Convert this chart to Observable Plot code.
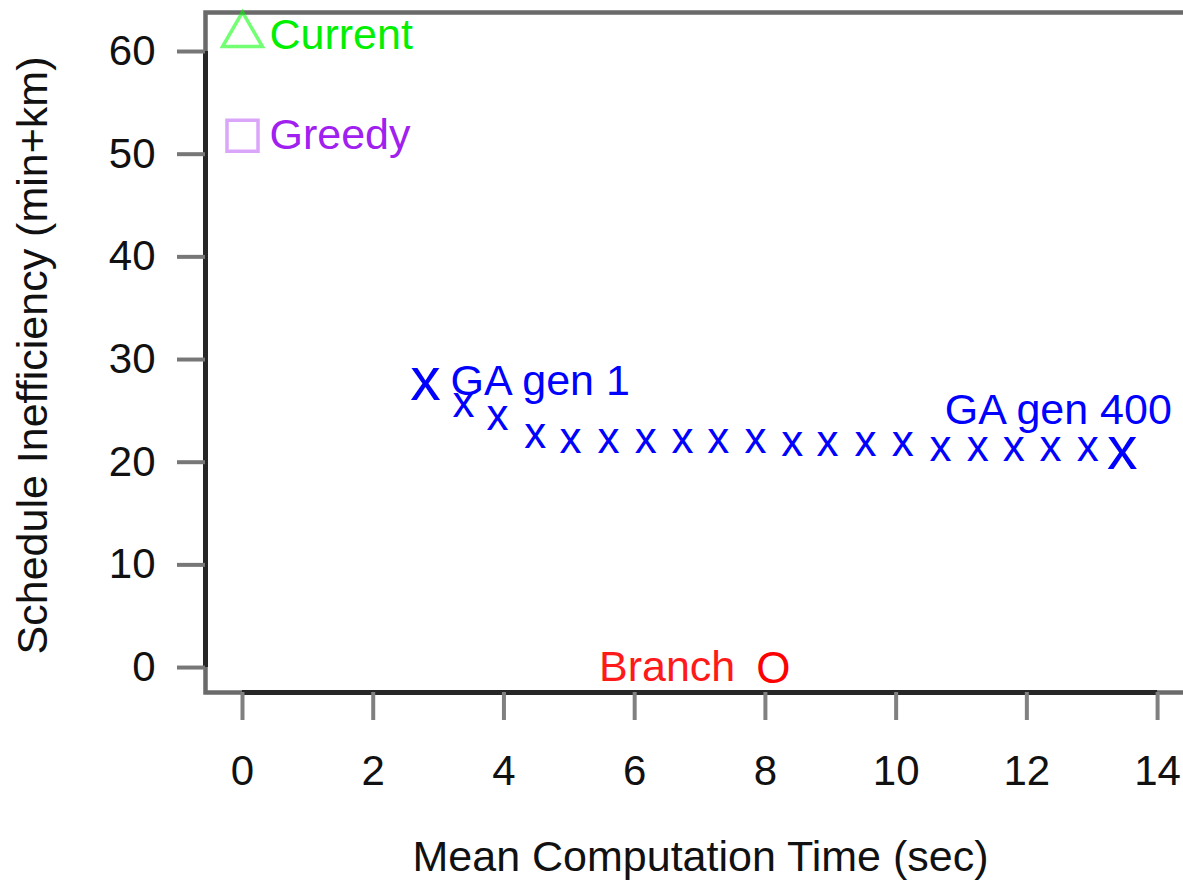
<!DOCTYPE html>
<html>
<head>
<meta charset="utf-8">
<script src="https://cdn.jsdelivr.net/npm/d3@7"></script>
<script src="https://cdn.jsdelivr.net/npm/@observablehq/plot@0.6"></script>
<style>
  html, body { margin: 0; padding: 0; background: #fff; overflow: hidden; }
  #chart svg { overflow: hidden; display: block; }
</style>
</head>
<body>
<div id="chart"></div>
<script>
// ---- Data ----
const gaTime  = [2.80, 3.38, 3.90, 4.48, 5.02, 5.60, 6.17, 6.73, 7.28, 7.85,
                 8.41, 8.95, 9.53, 10.10, 10.68, 11.25, 11.80, 12.36, 12.93, 13.46];
const gaIneff = [27.56, 25.51, 24.25, 22.49, 22.01, 22.01, 22.01, 22.01, 22.01, 22.01,
                 21.71, 21.71, 21.71, 21.71, 21.23, 21.23, 21.23, 21.23, 21.23, 20.84];
const gaLabels = ["GA gen 1", "GA gen 400"];

const methods      = ["Current", "Greedy", "Branch"];
const methodTime   = [0, 0, 8.12];
const methodIneff  = [61.6, 51.8, 0];

const xTicks = [0, 2, 4, 6, 8, 10, 12, 14];
const yTicks = [0, 10, 20, 30, 40, 50, 60];
const xTitle = "Mean Computation Time (sec)";
const yTitle = "Schedule Inefficiency (min+km)";

const xDomain = [-0.566, 14.58];
const yDomain = [-2.43, 63.8];

// ---- Build ----
const font = "'Liberation Sans', Arial, Helvetica, sans-serif";
const gaIdx = d3.range(gaTime.length);
const last = gaTime.length - 1;
const gaSmall = gaIdx.filter(i => i !== 0 && i !== last);
const gaBig = [0, last];

const chart = Plot.plot({
  width: 1183,
  height: 892,
  marginLeft: 205,
  marginRight: -12,
  marginTop: 12,
  marginBottom: 200,
  style: { fontFamily: font, background: "#fff", color: "#111" },
  x: { domain: xDomain, label: null },
  y: { domain: yDomain, label: null },
  marks: [
    Plot.frame({ stroke: "#6a6a6a", strokeWidth: 4.5 }),
    Plot.ruleY([yDomain[0]], { x1: xTicks[0], x2: xTicks[xTicks.length - 1], stroke: "#262626", strokeWidth: 5 }),
    Plot.ruleX([xDomain[0]], { y1: yTicks[0], y2: yTicks[yTicks.length - 1], stroke: "#262626", strokeWidth: 5 }),
    Plot.axisX(xTicks, { tickSize: 28, tickPadding: 35, fontSize: 42, stroke: "#808080", strokeWidth: 4, fill: "#111", label: null }),
    Plot.axisY(yTicks, { tickSize: 28, tickPadding: 22, fontSize: 42, stroke: "#777", strokeWidth: 4, fill: "#111", label: null }),

    // axis titles
    Plot.text([xTitle], { text: d => d, frameAnchor: "bottom", dy: 178, fontSize: 43, fill: "#111" }),
    Plot.text([yTitle], { text: d => d, frameAnchor: "left", textAnchor: "middle", rotate: -90,
                          dx: -172, dy: 3, fontSize: 43, fill: "#111" }),

    // Current (triangle)
    Plot.dot([0], { x: i => methodTime[i], y: i => methodIneff[i], symbol: "triangle", r: 14.8,
                    stroke: "#00ff00", strokeOpacity: 0.55, strokeWidth: 3.5, fill: "none" }),
    Plot.text([0], { x: i => methodTime[i], y: i => methodIneff[i], text: i => methods[i],
                     dx: 27, textAnchor: "start", fontSize: 43, fill: "#00f000" }),

    // Greedy (square)
    Plot.dot([1], { x: i => methodTime[i], y: i => methodIneff[i], symbol: "square", r: 17.5,
                    stroke: "#A020F0", strokeOpacity: 0.4, strokeWidth: 3.5, fill: "none" }),
    Plot.text([1], { x: i => methodTime[i], y: i => methodIneff[i], text: i => methods[i],
                     dx: 27, textAnchor: "start", fontSize: 43, fill: "#A020F0" }),

    // Branch (O)
    Plot.text([2], { x: i => methodTime[i], y: i => methodIneff[i], text: () => "O",
                     fontSize: 44, fill: "#ff0000", dy: 1 }),
    Plot.text([2], { x: i => methodTime[i], y: i => methodIneff[i], text: i => methods[i],
                     dx: -38, textAnchor: "end", fontSize: 43, fill: "#ff1a1a" }),

    // GA generations
    Plot.text(gaSmall, { x: i => gaTime[i], y: i => gaIneff[i], text: () => "x",
                         fontSize: 44, fill: "#0000ff", dy: -3 }),
    Plot.text(gaBig, { x: i => gaTime[i], y: i => gaIneff[i], text: () => "x",
                       fontSize: 61, fill: "#0000ff", dy: -4 }),
    Plot.text([0], { x: i => gaTime[i], y: i => gaIneff[i], text: () => gaLabels[0],
                     dx: 25, dy: -3, textAnchor: "start", fontSize: 43, fill: "#0000ff" }),
    Plot.text([last], { x: i => gaTime[i], y: i => gaIneff[i], text: () => gaLabels[1],
                        dx: -64, dy: -43, textAnchor: "middle", fontSize: 43, fill: "#0000ff" })
  ]
});
document.getElementById("chart").appendChild(chart);
</script>
</body>
</html>
